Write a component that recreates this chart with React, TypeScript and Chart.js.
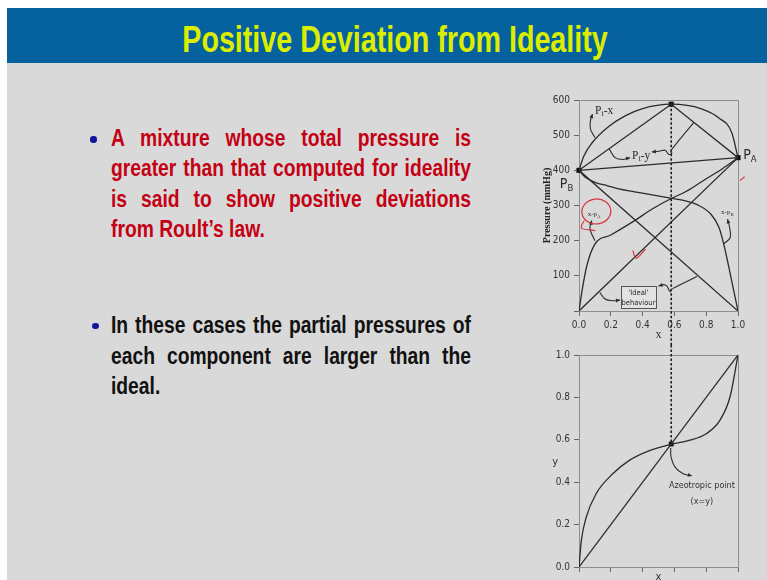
import { useEffect, useRef } from 'react';
import { Chart, registerables } from 'chart.js';

Chart.register(...registerables);

const NARROW = '"DejaVu Sans Condensed", "Liberation Sans Narrow", sans-serif';
const SANS = '"Liberation Sans", Arial, sans-serif';
const SERIF = '"Liberation Serif", "Times New Roman", serif';
const INK = '#2b2b2b';
const FRAME = '#8e8e8e';
const PEN = '#d8323f';
const SQUEEZE = 0.82;

// Pure-component vapour pressures (mmHg) and the azeotrope
const pressureB = 400;
const pressureA = 436;
const azeotropeX = 0.58;
const azeotropeP = 588;
const azeotropeY = 0.58;

const compositionTicks = [0, 0.2, 0.4, 0.6, 0.8, 1.0];
const pressureTicks = [0, 100, 200, 300, 400, 500, 600];
const fractionTicks = [0, 0.2, 0.4, 0.6, 0.8, 1.0];

// Total pressure against liquid composition (P_t-x)
const bubbleX = [0, 0.03, 0.08, 0.185, 0.29, 0.395, 0.58, 0.77, 0.88, 0.96, 1.0];
const bubbleP = [400, 440, 477, 524, 555, 575, 588, 575, 549, 508, 436];

// Total pressure against vapour composition (P_t-y)
const dewX = [0, azeotropeX, 1];
const dewP = [pressureB, azeotropeP, pressureA];

// Real partial pressure of A
const partialAX = [0, 0.02, 0.05, 0.1, 0.2, 0.35, 0.46, 0.58, 0.67, 0.8, 0.9, 1.0];
const partialAP = [0, 60, 130, 190, 216, 257, 290, 320, 339, 376, 404, 436];

// Real partial pressure of B
const partialBX = [0, 0.04, 0.1, 0.18, 0.25, 0.35, 0.46, 0.575, 0.67, 0.74, 0.83, 0.88, 0.91, 0.95, 1.0];
const partialBP = [400, 380, 366, 356, 347, 339, 330, 321, 313, 303, 275, 238, 191, 108, 0];

// Raoult's-law straight lines
const idealX = [0, 1];
const idealA = [0, pressureA];
const idealB = [pressureB, 0];
const idealTotal = [pressureB, pressureA];

// Vapour mole fraction against liquid mole fraction
const vleX = [0, 0.015, 0.046, 0.109, 0.214, 0.319, 0.424, 0.576, 0.698, 0.803, 0.887, 0.95, 1.0];
const vleY = [0, 0.126, 0.236, 0.347, 0.441, 0.504, 0.543, 0.578, 0.598, 0.63, 0.693, 0.803, 1.0];
const diagonal = [0, 1];

type P2 = [number, number];
type Part = [string, boolean];

// Call-out labels on the pressure diagram (data coordinates)
const pressureLabels: { parts: Part[]; x: number; y: number; size: number; font: string; align: CanvasTextAlign }[] = [
  { parts: [['P', false], ['t', true], ['-x', false]], x: 0.101, y: 569, size: 11.5, font: SERIF, align: 'left' },
  { parts: [['P', false], ['t', true], ['-y', false]], x: 0.334, y: 442, size: 11.5, font: SERIF, align: 'left' },
  { parts: [['P', false], ['A', true]], x: 1.033, y: 444, size: 14, font: NARROW, align: 'left' },
  { parts: [['P', false], ['B', true]], x: -0.036, y: 360, size: 14, font: NARROW, align: 'right' },
  { parts: [['x-p', false], ['A', true]], x: 0.095, y: 274, size: 7, font: SERIF, align: 'center' },
  { parts: [['x-p', false], ['B', true]], x: 0.933, y: 280, size: 7, font: SERIF, align: 'center' },
];

// Leader arrows on the pressure diagram; the head sits at the last point
const pressureArrows: P2[][] = [
  [[0.101, 493], [0.072, 517], [0.072, 542], [0.085, 560]],
  [[0.19, 461], [0.227, 436], [0.279, 431], [0.321, 436]],
  [[0.72, 535], [0.588, 462], [0.584, 448], [0.563, 446], [0.542, 457], [0.51, 455], [0.458, 452]],
  [[0.1, 200], [0.069, 233], [0.08, 257]],
  [[0.909, 191], [0.951, 209], [0.947, 238], [0.934, 261]],
  [[0.132, 52], [0.164, 34], [0.216, 29], [0.258, 31]],
  [[0.742, 98], [0.594, 65], [0.573, 55], [0.553, 71], [0.531, 75], [0.5, 71]],
];

// 'Ideal' behaviour box corners and its two text lines
const idealBox = { x0: 0.263, x1: 0.485, y0: 70.6, y1: 8.3 };
const idealBoxText = [
  { text: "'Ideal'", x: 0.374, y: 52 },
  { text: 'behaviour', x: 0.374, y: 24 },
];

// Red pen marks
const penLoop = { x: 0.109, y: 283 };
const penTail: P2[] = [[0.03, 255], [0.017, 235], [0.1, 229]];
const penCheck: P2[] = [[0.34, 171], [0.36, 150], [0.416, 175]];
const penDash: P2[] = [[1.015, 372], [1.04, 381]];

// Azeotrope call-out on the y-x diagram
const vleArrow: P2[] = [[0.577, 0.561], [0.579, 0.518], [0.604, 0.471], [0.655, 0.44], [0.71, 0.43]];
const vleText = [
  { text: 'Azeotropic point', x: 0.773, y: 0.383 },
  { text: '(x=y)', x: 0.773, y: 0.307 },
];
const vleAxisLabel = { text: 'y', x: -0.15, y: 0.496 };

const pts = (xs: number[], ys: number[]) => xs.map((x, i) => ({ x, y: ys[i] }));

const line = (data: { x: number; y: number }[], extra: Record<string, unknown> = {}) => ({
  data,
  borderColor: INK,
  borderWidth: 1.3,
  pointRadius: 0,
  fill: false,
  ...extra,
});

function smooth(ctx: CanvasRenderingContext2D, p: P2[]) {
  ctx.beginPath();
  ctx.moveTo(p[0][0], p[0][1]);
  for (let i = 0; i < p.length - 1; i++) {
    const p0 = p[i - 1] || p[i];
    const p1 = p[i];
    const p2 = p[i + 1];
    const p3 = p[i + 2] || p2;
    const t = 1 / 6;
    ctx.bezierCurveTo(
      p1[0] + (p2[0] - p0[0]) * t, p1[1] + (p2[1] - p0[1]) * t,
      p2[0] - (p3[0] - p1[0]) * t, p2[1] - (p3[1] - p1[1]) * t,
      p2[0], p2[1]
    );
  }
  ctx.stroke();
}

function head(ctx: CanvasRenderingContext2D, from: P2, to: P2, size = 4.5) {
  const a = Math.atan2(to[1] - from[1], to[0] - from[0]);
  ctx.beginPath();
  ctx.moveTo(to[0], to[1]);
  ctx.lineTo(to[0] - size * Math.cos(a - 0.45), to[1] - size * Math.sin(a - 0.45));
  ctx.lineTo(to[0] - size * Math.cos(a + 0.45), to[1] - size * Math.sin(a + 0.45));
  ctx.closePath();
  ctx.fill();
}

function drawParts(ctx: CanvasRenderingContext2D, parts: Part[], x: number, y: number, size: number, font: string, align: CanvasTextAlign) {
  const f = (sub: boolean) => `${sub ? size * 0.68 : size}px ${font}`;
  let w = 0;
  parts.forEach(([t, sub]) => { ctx.font = f(sub); w += ctx.measureText(t).width; });
  let cx = align === 'left' ? x : align === 'right' ? x - w : x - w / 2;
  ctx.textAlign = 'left';
  ctx.textBaseline = 'middle';
  parts.forEach(([t, sub]) => {
    ctx.font = f(sub);
    ctx.fillText(t, cx, sub ? y + size * 0.3 : y);
    cx += ctx.measureText(t).width;
  });
}

const framePlugin = {
  id: 'frame',
  beforeDatasetsDraw(chart: any) {
    const { ctx, chartArea: a } = chart;
    ctx.save();
    ctx.strokeStyle = FRAME;
    ctx.lineWidth = 1;
    ctx.strokeRect(a.left + 0.5, a.top + 0.5, a.right - a.left, a.bottom - a.top);
    ctx.restore();
  },
};

const pressureOverlay = {
  id: 'pressureOverlay',
  afterDatasetsDraw(chart: any) {
    const { ctx, scales } = chart;
    const X = (v: number) => scales.x.getPixelForValue(v);
    const Y = (v: number) => scales.y.getPixelForValue(v);
    const toPx = (p: P2): P2 => [X(p[0]), Y(p[1])];
    ctx.save();
    // azeotrope guide line, continuing down to the y-x diagram
    ctx.strokeStyle = '#1e1e1e';
    ctx.lineWidth = 1.6;
    ctx.setLineDash([2.5, 2]);
    ctx.beginPath();
    ctx.moveTo(X(azeotropeX), Y(azeotropeP));
    ctx.lineTo(X(azeotropeX), chart.height);
    ctx.stroke();
    ctx.setLineDash([]);

    ctx.strokeStyle = INK;
    ctx.fillStyle = INK;
    ctx.lineWidth = 1.1;
    pressureArrows.forEach((path) => {
      const p = path.map(toPx);
      smooth(ctx, p);
      head(ctx, p[p.length - 2], p[p.length - 1]);
    });

    // 'Ideal' behaviour box
    const bx0 = X(idealBox.x0), bx1 = X(idealBox.x1), by0 = Y(idealBox.y0), by1 = Y(idealBox.y1);
    ctx.fillStyle = '#e2e2e2';
    ctx.fillRect(bx0, by0, bx1 - bx0, by1 - by0);
    ctx.strokeStyle = '#555';
    ctx.lineWidth = 1;
    ctx.strokeRect(Math.round(bx0) + 0.5, Math.round(by0) + 0.5, Math.round(bx1 - bx0), Math.round(by1 - by0));
    ctx.fillStyle = INK;
    ctx.font = `7.5px ${NARROW}`;
    ctx.textAlign = 'center';
    ctx.textBaseline = 'middle';
    idealBoxText.forEach((t) => ctx.fillText(t.text, X(t.x), Y(t.y)));

    pressureLabels.forEach((l) => drawParts(ctx, l.parts, X(l.x), Y(l.y), l.size, l.font, l.align));

    // red pen marks
    ctx.strokeStyle = PEN;
    ctx.lineWidth = 1.2;
    ctx.lineCap = 'round';
    ctx.beginPath();
    ctx.ellipse(X(penLoop.x), Y(penLoop.y), 14.5, 12.5, -0.1, 0, Math.PI * 2);
    ctx.stroke();
    smooth(ctx, penTail.map(toPx));
    smooth(ctx, penCheck.map(toPx));
    smooth(ctx, penDash.map(toPx));
    ctx.restore();
  },
};

const vleOverlay = {
  id: 'vleOverlay',
  afterDatasetsDraw(chart: any) {
    const { ctx, scales } = chart;
    const X = (v: number) => scales.x.getPixelForValue(v);
    const Y = (v: number) => scales.y.getPixelForValue(v);
    ctx.save();
    ctx.strokeStyle = '#1e1e1e';
    ctx.lineWidth = 1.6;
    ctx.setLineDash([2.5, 2]);
    ctx.beginPath();
    ctx.moveTo(X(azeotropeX), 0);
    ctx.lineTo(X(azeotropeX), Y(azeotropeY));
    ctx.stroke();
    ctx.setLineDash([]);

    ctx.strokeStyle = INK;
    ctx.fillStyle = INK;
    ctx.lineWidth = 1.1;
    const p = vleArrow.map((q) => [X(q[0]), Y(q[1])] as P2);
    smooth(ctx, p);
    head(ctx, p[p.length - 2], p[p.length - 1]);

    ctx.fillStyle = '#333';
    ctx.font = `9px ${NARROW}`;
    ctx.textAlign = 'center';
    ctx.textBaseline = 'middle';
    vleText.forEach((t) => ctx.fillText(t.text, X(t.x), Y(t.y)));
    ctx.font = `11px ${NARROW}`;
    ctx.fillText(vleAxisLabel.text, X(vleAxisLabel.x), Y(vleAxisLabel.y));
    ctx.restore();
  },
};

const tickFont = { family: NARROW, size: 10 };

function axisX(height: number, labels: boolean, title: any) {
  return {
    type: 'linear' as const,
    min: 0,
    max: 1,
    afterFit: (s: any) => { s.height = height; },
    afterBuildTicks: (s: any) => { s.ticks = compositionTicks.map((value) => ({ value })); },
    ticks: {
      color: '#333',
      font: tickFont,
      padding: 3,
      maxRotation: 0,
      autoSkip: false,
      callback: (v: any) => (labels ? Number(v).toFixed(1) : ''),
    },
    grid: { drawOnChartArea: false, tickLength: 5, color: '#666', lineWidth: 1 },
    border: { display: false },
    title,
  };
}

function PressureDiagram() {
  const ref = useRef<HTMLCanvasElement>(null);
  useEffect(() => {
    const chart = new Chart(ref.current!, {
      type: 'line',
      data: {
        datasets: [
          line(pts(bubbleX, bubbleP), { cubicInterpolationMode: 'monotone' }),
          line(pts(dewX, dewP)),
          line(pts(partialAX, partialAP), { cubicInterpolationMode: 'monotone' }),
          line(pts(partialBX, partialBP), { cubicInterpolationMode: 'monotone' }),
          line(pts(idealX, idealA)),
          line(pts(idealX, idealB)),
          line(pts(idealX, idealTotal)),
          {
            data: pts([0, azeotropeX, 1], [pressureB, azeotropeP, pressureA]),
            showLine: false,
            pointStyle: 'rect',
            pointRadius: 3.6,
            pointBackgroundColor: '#111',
            pointBorderWidth: 0,
            clip: false,
          },
        ] as any,
      },
      options: {
        responsive: false,
        animation: false,
        events: [],
        layout: { padding: { left: 0, right: 29, top: 15, bottom: 0 } },
        plugins: { legend: { display: false }, tooltip: { enabled: false } },
        scales: {
          x: axisX(34, true, {
            display: true,
            text: 'x',
            color: '#333',
            font: { family: SERIF, size: 12 },
            padding: { top: 0, bottom: 3 },
          }),
          y: {
            type: 'linear',
            min: 0,
            max: 600,
            afterFit: (s: any) => { s.width = 49; },
            afterBuildTicks: (s: any) => { s.ticks = pressureTicks.map((value) => ({ value })); },
            ticks: {
              color: '#333',
              font: tickFont,
              padding: 4,
              callback: (v: any) => (Number(v) === 0 ? '' : String(v)),
            },
            grid: { drawOnChartArea: false, tickLength: 5, color: '#666', lineWidth: 1 },
            border: { display: false },
            title: {
              display: true,
              text: 'Pressure (mmHg)',
              color: '#222',
              font: { family: SERIF, size: 10, weight: 'bold' },
              padding: { top: 11, bottom: 0 },
            },
          },
        },
      } as any,
      plugins: [framePlugin, pressureOverlay],
    });
    return () => chart.destroy();
  }, []);
  return (
    <canvas
      ref={ref}
      width={237}
      height={260}
      style={{ position: 'absolute', left: 530, top: 85, width: 237, height: 260, display: 'block' }}
    />
  );
}

function CompositionDiagram() {
  const ref = useRef<HTMLCanvasElement>(null);
  useEffect(() => {
    const chart = new Chart(ref.current!, {
      type: 'line',
      data: {
        datasets: [
          line(pts(vleX, vleY), { cubicInterpolationMode: 'monotone' }),
          line(pts(diagonal, diagonal)),
          {
            data: pts([azeotropeX], [azeotropeY]),
            showLine: false,
            pointStyle: 'rect',
            pointRadius: 3.4,
            pointBackgroundColor: '#111',
            pointBorderWidth: 0,
            clip: false,
          },
        ] as any,
      },
      options: {
        responsive: false,
        animation: false,
        events: [],
        layout: { padding: { left: 0, right: 29, top: 10, bottom: 0 } },
        plugins: { legend: { display: false }, tooltip: { enabled: false } },
        scales: {
          x: axisX(18, false, {
            display: true,
            text: 'x',
            color: '#333',
            font: { family: NARROW, size: 11 },
            padding: { top: 0, bottom: 1 },
          }),
          y: {
            type: 'linear',
            min: 0,
            max: 1,
            afterFit: (s: any) => { s.width = 49; },
            afterBuildTicks: (s: any) => { s.ticks = fractionTicks.map((value) => ({ value })); },
            ticks: {
              color: '#333',
              font: tickFont,
              padding: 4,
              callback: (v: any) => Number(v).toFixed(1),
            },
            grid: { drawOnChartArea: false, tickLength: 5, color: '#666', lineWidth: 1 },
            border: { display: false },
          },
        },
      } as any,
      plugins: [framePlugin, vleOverlay],
    });
    return () => chart.destroy();
  }, []);
  return (
    <canvas
      ref={ref}
      width={237}
      height={240}
      style={{ position: 'absolute', left: 530, top: 345, width: 237, height: 240, display: 'block' }}
    />
  );
}

const bulletOne = [
  'A mixture whose total pressure is',
  'greater than that computed for ideality',
  'is said to show positive deviations',
  'from Roult\u2019s law.',
];
const bulletTwo = [
  'In these cases the partial pressures of',
  'each component are larger than the',
  'ideal.',
];

function Bullet({ lines, color, top, dotX, dotY }: { lines: string[]; color: string; top: number; dotX: number; dotY: number }) {
  return (
    <>
      <div
        style={{
          position: 'absolute',
          left: dotX - 3.2,
          top: dotY - 3.2,
          width: 6.4,
          height: 6.4,
          borderRadius: '50%',
          background: '#15159a',
        }}
      />
      <div
        style={{
          position: 'absolute',
          left: 111,
          top,
          width: 360 / SQUEEZE,
          transform: `scaleX(${SQUEEZE})`,
          transformOrigin: 'left top',
          fontFamily: SANS,
          fontWeight: 'bold',
          fontSize: 23.5,
          lineHeight: '30.5px',
          color,
        }}
      >
        {lines.map((l, i) => (
          <div key={i} style={{ textAlign: 'justify', textAlignLast: i === lines.length - 1 ? 'left' : 'justify' }}>
            {l}
          </div>
        ))}
      </div>
    </>
  );
}

export default function App() {
  return (
    <div style={{ position: 'fixed', left: 0, top: 0, width: 767, height: 580, overflow: 'hidden', background: '#fff' }}>
      <div style={{ position: 'absolute', left: 7, top: 8, width: 760, height: 572, background: '#d9d9d9' }} />
      <div style={{ position: 'absolute', left: 7, top: 8, width: 760, height: 55, background: '#05629e' }} />
      <div
        style={{
          position: 'absolute',
          left: 395 - 300,
          top: 12,
          width: 600,
          height: 55,
          lineHeight: '55px',
          textAlign: 'center',
          fontFamily: SANS,
          fontWeight: 'bold',
          fontSize: 37,
          color: '#dcee00',
          transform: 'scaleX(0.775)',
          transformOrigin: 'center top',
          whiteSpace: 'nowrap',
        }}
      >
        Positive Deviation from Ideality
      </div>
      <Bullet lines={bulletOne} color="#c40014" top={122.6} dotX={93.5} dotY={139.5} />
      <Bullet lines={bulletTwo} color="#111" top={310} dotX={95.5} dotY={326.3} />
      <PressureDiagram />
      <CompositionDiagram />
    </div>
  );
}
